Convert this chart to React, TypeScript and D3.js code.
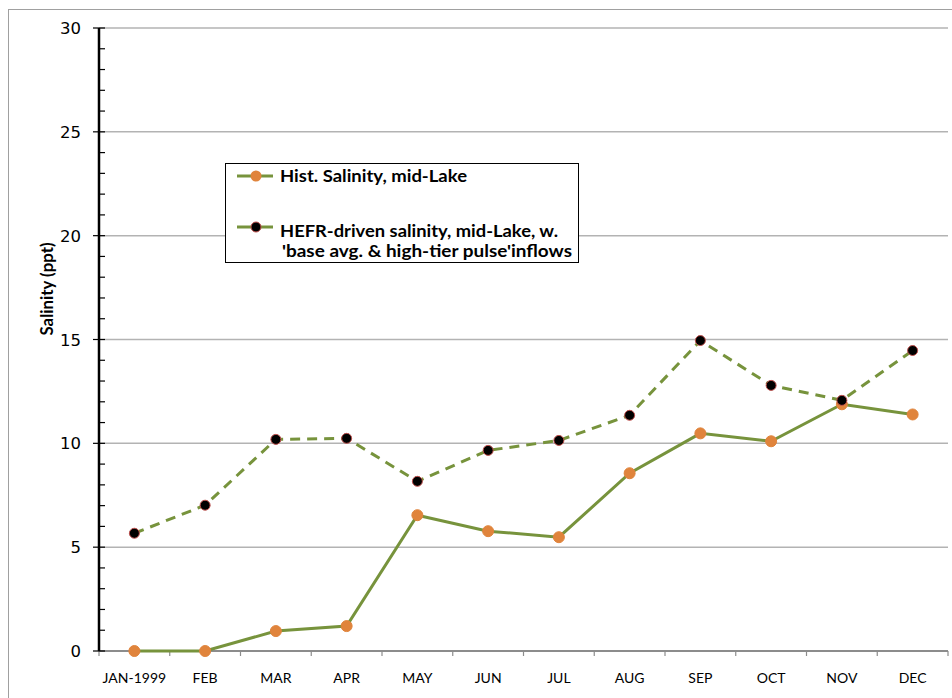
import React from "react";
import * as d3 from "d3";

const months = ["JAN-1999", "FEB", "MAR", "APR", "MAY", "JUN", "JUL", "AUG", "SEP", "OCT", "NOV", "DEC"];
const histSalinity = [0, 0, 0.96, 1.2, 6.54, 5.77, 5.48, 8.56, 10.48, 10.1, 11.88, 11.39];
const hefrSalinity = [5.67, 7.02, 10.19, 10.24, 8.17, 9.66, 10.14, 11.35, 14.95, 12.79, 12.07, 14.47];
const yTicks = [0, 5, 10, 15, 20, 25, 30];
const legendLabels = ["Hist. Salinity, mid-Lake", "HEFR-driven salinity, mid-Lake, w.", "'base avg. & high-tier pulse'inflows"];

export default function App() {
  const W = 952, H = 698;
  const left = 99, right = 948, top = 28, bottom = 651;
  const x = d3.scaleBand<string>().domain(months).range([left, right]);
  const y = d3.scaleLinear().domain([0, 30]).range([bottom, top]);
  const cx = (i: number) => (x(months[i]) as number) + x.bandwidth() / 2;
  const line = d3.line<number>().x((_, i) => cx(i)).y((d) => y(d));
  const minor = d3.range(0, 31, 1).filter((v) => v % 5 !== 0);
  const green = "#77933C";
  return (
    <svg width={W} height={H} style={{ position: "absolute", left: 0, top: 0, background: "#fff" }}>
      <rect x={8.5} y={9.5} width={W + 20} height={H + 20} fill="none" stroke="#a0a0a0" strokeWidth={1} />
      {yTicks.slice(1).map((t) => (
        <line key={t} x1={left} x2={right} y1={y(t)} y2={y(t)} stroke="#b3b3b3" strokeWidth={1.5} />
      ))}
      {/* x axis */}
      <line x1={left} x2={right} y1={bottom} y2={bottom} stroke="#8c8c8c" strokeWidth={2} />
      {d3.range(0, months.length + 1).map((i) => {
        const xx = i < months.length ? (x(months[i]) as number) : right;
        return <line key={i} x1={xx} x2={xx} y1={bottom} y2={bottom + 5} stroke="#8c8c8c" strokeWidth={1.2} />;
      })}
      {months.map((m, i) => (
        <text key={m} x={cx(i)} y={683} textAnchor="middle" fontFamily="Lato, 'Open Sans', sans-serif" fontSize={14} fill="#000">
          {m}
        </text>
      ))}
      {/* y axis */}
      <line x1={left} x2={left} y1={top} y2={bottom} stroke="#000" strokeWidth={2.5} />
      {yTicks.map((t) => (
        <g key={t}>
          <line x1={93} x2={105} y1={y(t)} y2={y(t)} stroke="#000" strokeWidth={1.2} />
          <text x={81} y={y(t) + 6} textAnchor="end" fontFamily="'DejaVu Sans', sans-serif" fontSize={16.5} fill="#000">
            {t}
          </text>
        </g>
      ))}
      {minor.map((t) => (
        <line key={t} x1={left} x2={105} y1={y(t)} y2={y(t)} stroke="#000" strokeWidth={1.2} />
      ))}
      <text transform={`translate(53, 289) rotate(-90)`} textAnchor="middle" fontFamily="Lato, 'Open Sans', sans-serif" fontWeight="bold" fontSize={16.5} fill="#000" textLength={93} lengthAdjust="spacingAndGlyphs">
        Salinity (ppt)
      </text>
      {/* series */}
      <path d={line(hefrSalinity) as string} fill="none" stroke={green} strokeWidth={3} strokeDasharray="10,7" />
      <path d={line(histSalinity) as string} fill="none" stroke={green} strokeWidth={3} />
      {histSalinity.map((v, i) => (
        <circle key={"h" + i} cx={cx(i)} cy={y(v)} r={5.5} fill="#E0843C" stroke="#E0843C" strokeWidth={1} />
      ))}
      {hefrSalinity.map((v, i) => (
        <circle key={"f" + i} cx={cx(i)} cy={y(v)} r={5} fill="#000" stroke="#C0504D" strokeWidth={1} />
      ))}
      {/* legend */}
      <rect x={225.5} y={163.5} width={353} height={99} fill="#fff" stroke="#000" strokeWidth={1} />
      <line x1={237} x2={273} y1={176} y2={176} stroke={green} strokeWidth={3} />
      <circle cx={256} cy={176} r={5.5} fill="#E0843C" />
      <line x1={237} x2={273} y1={227} y2={227} stroke={green} strokeWidth={3} />
      <circle cx={256} cy={227} r={5} fill="#000" stroke="#C0504D" strokeWidth={1} />
      <g fontFamily="Lato, 'Open Sans', sans-serif" fontWeight="bold" fontSize={17.5} fill="#000">
        <text x={280} y={182} textLength={187} lengthAdjust="spacingAndGlyphs">{legendLabels[0]}</text>
        <text x={280} y={237} textLength={278} lengthAdjust="spacingAndGlyphs">{legendLabels[1]}</text>
        <text x={282} y={257} textLength={290} lengthAdjust="spacingAndGlyphs">{legendLabels[2]}</text>
      </g>
    </svg>
  );
}
